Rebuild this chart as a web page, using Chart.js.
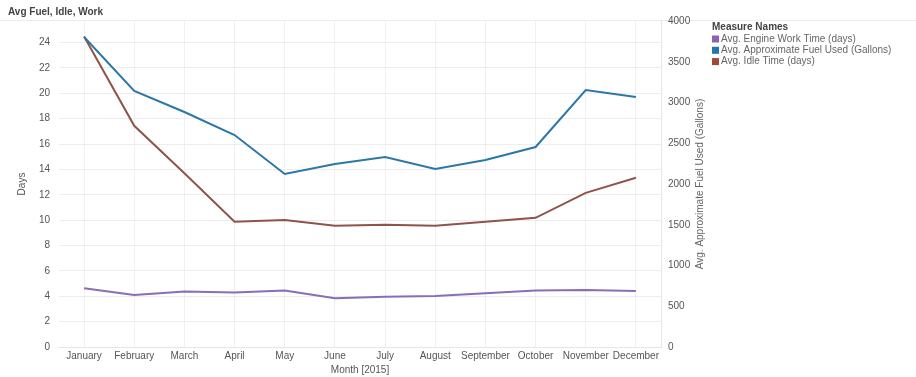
<!DOCTYPE html>
<html>
<head>
<meta charset="utf-8">
<script src="https://cdn.jsdelivr.net/npm/chart.js@4.4.1/dist/chart.umd.min.js"></script>
<style>
  html, body { margin: 0; padding: 0; background: #fff; }
  canvas { display: block; }
</style>
</head>
<body>
<canvas id="myChart" width="916" height="377"></canvas>
<script>
// data
const months = ["January", "February", "March", "April", "May", "June", "July",
  "August", "September", "October", "November", "December"];
const engineWorkDays = [4.63, 4.1, 4.37, 4.3, 4.45, 3.84, 3.97, 4.03, 4.24, 4.45, 4.5, 4.42];
const fuelGallons = [3804, 3141, 2883, 2601, 2123, 2245, 2331, 2184, 2294, 2454, 3153, 3067];
const idleDays = [24.47, 17.44, 13.7, 9.87, 10.02, 9.55, 9.63, 9.55, 9.87, 10.18, 12.15, 13.34];

const dayTicks = [0, 2, 4, 6, 8, 10, 12, 14, 16, 18, 20, 22, 24];
const gallonTicks = [0, 500, 1000, 1500, 2000, 2500, 3000, 3500, 4000];

const seriesNames = ["Avg. Engine Work Time (days)", "Avg. Approximate Fuel Used (Gallons)", "Avg. Idle Time (days)"];
const seriesColors = ["#8a6db8", "#2b77a8", "#8e5449"];
const legendColors = ["#8b62b8", "#1f76b0", "#a0483a"];

Chart.defaults.font.family = "'Liberation Sans', Arial, sans-serif";
Chart.defaults.font.size = 10;
Chart.defaults.color = "#595959";

const ctx = document.getElementById("myChart").getContext("2d");

// 🔹 title separator, right axis title (reads bottom to top) + side legend
const extras = {
  id: "extras",
  beforeDraw(chart) {
    const c = chart.ctx;
    c.save();
    c.strokeStyle = "#ececec";
    c.lineWidth = 1;
    c.beginPath();
    c.moveTo(0, 20.5);
    c.lineTo(916, 20.5);
    c.stroke();
    c.restore();
  },
  afterDraw(chart) {
    const c = chart.ctx;
    const area = chart.chartArea;
    c.save();

    // right axis title
    c.translate(700, (area.top + area.bottom) / 2);
    c.rotate(-Math.PI / 2);
    c.fillStyle = "#666";
    c.font = "10px 'Liberation Sans', Arial, sans-serif";
    c.textAlign = "center";
    c.textBaseline = "middle";
    c.fillText("Avg. Approximate Fuel Used (Gallons)", 0, 0);
    c.setTransform(1, 0, 0, 1, 0, 0);

    // legend
    c.textAlign = "left";
    c.textBaseline = "middle";
    c.fillStyle = "#444";
    c.font = "bold 10px 'Liberation Sans', Arial, sans-serif";
    c.fillText("Measure Names", 712, 27);
    c.font = "10px 'Liberation Sans', Arial, sans-serif";
    seriesNames.forEach((name, i) => {
      const y = 39 + i * 11.3;
      c.fillStyle = legendColors[i];
      c.fillRect(712, y - 3.5, 7, 7);
      c.fillStyle = "#666";
      c.fillText(name, 721, y);
    });
    c.restore();
  }
};

const config = {
  type: "line",
  data: {
    labels: months,
    datasets: [
      {
        label: seriesNames[0],
        data: engineWorkDays,
        borderColor: seriesColors[0],
        backgroundColor: legendColors[0],
        yAxisID: "y"
      },
      {
        label: seriesNames[1],
        data: fuelGallons,
        borderColor: seriesColors[1],
        backgroundColor: legendColors[1],
        yAxisID: "y1"
      },
      {
        label: seriesNames[2],
        data: idleDays,
        borderColor: seriesColors[2],
        backgroundColor: legendColors[2],
        yAxisID: "y"
      }
    ]
  },
  options: {
    responsive: false,
    animation: false,
    layout: {
      padding: { top: 0, bottom: 0, left: 8, right: 205 }
    },
    elements: {
      line: { borderWidth: 2, tension: 0, fill: false },
      point: { radius: 0 }
    },
    scales: {
      x: {
        offset: true,
        grid: { color: "#f0f0f0", offset: false, drawTicks: false },
        border: { color: "#e6e6e6" },
        ticks: { color: "#555", padding: 3, autoSkip: false, maxRotation: 0 },
        title: {
          display: true,
          text: "Month [2015]",
          color: "#555",
          padding: { top: 0, bottom: 1 }
        },
        afterFit(scale) { scale.height = 30; }
      },
      y: {
        position: "left",
        min: 0,
        max: 25.7,
        grid: { color: "#ededed", drawTicks: false },
        border: { display: false },
        ticks: { color: "#555", padding: 9 },
        afterBuildTicks(scale) {
          scale.ticks = dayTicks.map(v => ({ value: v }));
        },
        title: {
          display: true,
          text: "Days",
          color: "#555",
          padding: { top: 8, bottom: 0 }
        },
        afterFit(scale) { scale.width = 51; }
      },
      y1: {
        position: "right",
        min: 0,
        max: 4000,
        grid: { drawOnChartArea: false, drawTicks: false },
        border: { color: "#e6e6e6" },
        ticks: {
          color: "#555",
          padding: 7,
          callback: (value) => String(value)
        },
        afterBuildTicks(scale) {
          scale.ticks = gallonTicks.map(v => ({ value: v }));
        },
        afterFit(scale) { scale.width = 50; }
      }
    },
    plugins: {
      title: {
        display: true,
        text: "Avg Fuel, Idle, Work",
        align: "start",
        color: "#444",
        font: { size: 10, weight: "bold" },
        padding: { top: 6, bottom: 3 }
      },
      legend: { display: false },
      tooltip: { enabled: false }
    }
  },
  plugins: [extras]
};

new Chart(ctx, config);
</script>
</body>
</html>
